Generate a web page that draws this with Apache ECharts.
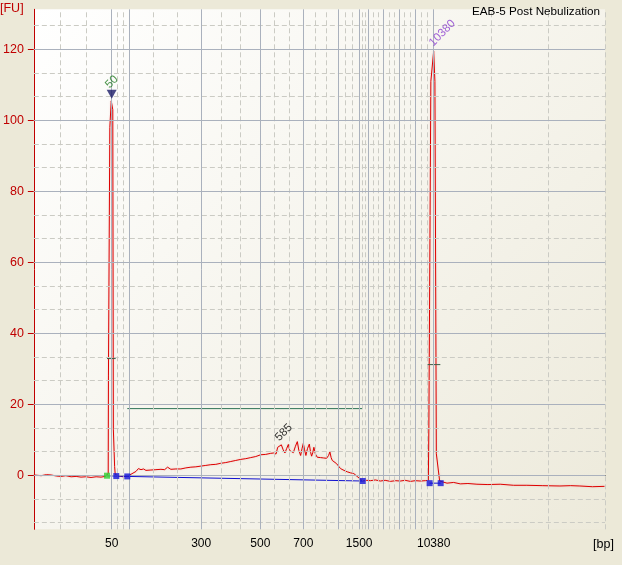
<!DOCTYPE html>
<html>
<head>
<meta charset="utf-8">
<script src="https://cdn.jsdelivr.net/npm/echarts@6/dist/echarts.min.js"></script>
<style>html,body{margin:0;padding:0;background:#ece9d8;}#c{width:622px;height:565px;}</style>
</head>
<body>
<div id="c"></div>
<script>
// ---- data (x in migration-time units, y in FU) ----
const ladderBp   = [50, 100, 300, 500, 700, 1000, 1500, 2000, 3000, 5000, 7000, 10380];
const ladderTime = [13.63, 16.70, 29.29, 39.66, 47.18, 53.22, 56.96, 58.47, 61.26, 63.95, 66.75, 70.00];
const labeledBp  = [50, 300, 500, 700, 1500, 10380];
const yTickLabels = [0, 20, 40, 60, 80, 100, 120];

const traceTime = [0, 1.28, 2.2, 3.02, 4.0, 4.77, 5.6, 6.52, 7.4, 8.26, 9.1, 10.01, 10.9, 11.76, 12.5, 12.81,
  13.02, 13.06, 13.30, 13.55, 13.63, 13.82, 13.92, 14.14, 14.25, 14.43,
  15.0, 15.6, 16.36,
  17.0, 17.88, 18.3, 18.76, 19.2, 19.62, 20.49, 21.37, 22.25, 22.9, 23.41, 23.99, 24.87, 25.74, 26.61, 27.49,
  28.36, 29.23, 30.11, 30.98, 31.86, 32.73, 33.60, 34.48, 35.35, 36.23, 37.10, 37.97, 38.85, 39.72, 40.60,
  41.47, 41.99, 42.4, 42.69, 43.0, 43.33, 43.65, 43.96, 44.25, 44.56, 44.8, 45.1, 45.43, 45.8, 46.13, 46.4,
  46.71, 46.95, 47.18, 47.4, 47.63, 47.9, 48.23, 48.45, 48.63, 48.85, 49.03, 49.3, 49.62, 50.2, 50.73, 51.25,
  51.6, 51.83, 52.05, 52.25, 52.6, 53.00, 53.35, 53.70, 54.3, 54.87, 55.45, 56.02, 56.6, 57.19, 57.59,
  58.3, 58.94, 59.8, 60.69, 61.5, 62.43, 63.3, 64.18, 65.0, 65.93, 66.8, 67.67, 68.55, 69.07,
  69.16, 69.51, 70.00, 70.22, 70.47, 71.05,
  71.35, 72.34, 73.5, 74.66, 76.0, 77.58, 79.5, 81.65, 84.0, 86.32, 89.0, 92.11, 94.0, 95.60, 97.8, 99.91];
const traceFU = [0.1, -0.1, 0.2, 0.1, -0.2, -0.3, -0.1, -0.4, -0.3, -0.5, -0.4, -0.6, -0.4, -0.5, -0.3, -0.1,
  0.5, 28, 98, 105.5, 106, 103, 13, 2.5, 0.2, -0.2,
  -0.2, -0.4, -0.2,
  0.3, 1.1, 1.9, 1.6, 1.8, 1.4, 1.5, 1.6, 1.7, 1.6, 2.3, 1.7, 1.8, 1.8, 2.1, 2.3,
  2.4, 2.6, 2.8, 3.0, 3.1, 3.4, 3.6, 3.9, 4.2, 4.5, 4.7, 5.0, 5.3, 5.8, 5.9,
  6.2, 6.3, 6.0, 7.9, 8.0, 8.6, 7.2, 6.3, 7.5, 8.7, 7.0, 6.5, 6.4, 8.2, 9.5, 7.0,
  5.6, 7.5, 9.0, 7.2, 5.6, 7.5, 8.8, 6.5, 5.4, 6.5, 7.9, 6.0, 5.1, 5.0, 4.9, 4.8,
  5.6, 6.6, 5.0, 4.2, 3.8, 3.3, 2.6, 1.9, 1.4, 1.0, 0.7, 0.5, -0.3, -1.1, -1.6,
  -1.4, -1.5, -1.3, -1.6, -1.4, -1.7, -1.5, -1.6, -1.4, -1.7, -1.5, -1.6, -1.5, -1.4,
  13, 111, 119.5, 111, 6.1, -1.6,
  -1.8, -2.2, -2.0, -2.4, -2.3, -2.5, -2.6, -2.5, -2.8, -2.8, -2.9, -3.0, -2.9, -3.0, -3.2, -3.1];

const greenMarker = [[12.81, -0.1]];
const blueMarkers = [[14.43, -0.2], [16.36, -0.3], [57.59, -1.6], [69.29, -2.2], [71.23, -2.2]];
const baselineSmear = [[12.81, -0.1], [16.36, -0.3], [57.59, -1.6]];
const baselineUpper = [[69.29, -2.2], [71.23, -2.2]];
const regionBar = [[16.36, 18.8], [57.5, 18.8]];
const halfHeight50 = [[12.81, 32.9], [14.33, 32.9]];
const halfHeight10380 = [[68.85, 31.2], [71.17, 31.2]];
const peakLabels = [
  {name: '50', value: [13.63, 110.8], color: '#1f7a1f'},
  {name: '585', value: [43.74, 12.1], color: '#000000'},
  {name: '10380', value: [71.52, 124.6], color: '#8a3ccf'}
];
const lowerMarkerTip = [[13.63, 107.4]];

const xMin = 0, xMax = 100, yMin = -15.2, yMax = 131.3;

// ---- grid line positions ----
const bounds = [xMin].concat(ladderTime, [xMax]);
const vDashed = [];
for (let i = 0; i < bounds.length - 1; i++) {
  const a = bounds[i], b = bounds[i + 1];
  vDashed.push(a + (b - a) / 3, a + 2 * (b - a) / 3);
}
vDashed.push(xMax);
const hDashed = [];
for (let v = -20; v < 140; v += 20) {
  [v + 20 / 3, v + 40 / 3].forEach(x => { if (x > yMin && x < yMax) hDashed.push(x); });
}

const traceData = traceTime.map((t, i) => [t, traceFU[i]]);
const bpByTime = {};
ladderTime.forEach((t, i) => { bpByTime[t.toFixed(2)] = ladderBp[i]; });
const labeledTimes = ladderTime.filter((t, i) => labeledBp.indexOf(ladderBp[i]) >= 0);

const FONT = 'Liberation Sans';
const chart = echarts.init(document.getElementById('c'));

function mlSeries(data, color, type) {
  return {
    type: 'line', data: [], z: 1, silent: true,
    markLine: {
      silent: true, symbol: ['none', 'none'], animation: false,
      label: {show: false},
      lineStyle: {color: color, type: type, width: 1},
      emphasis: {disabled: true},
      data: data
    }
  };
}

chart.setOption({
  animation: false,
  backgroundColor: '#ece9d8',
  title: {
    text: 'EAB-5 Post Nebulization', right: 17, top: 1,
    textStyle: {fontFamily: FONT, fontSize: 11.7, fontWeight: 'normal', color: '#000'}
  },
  graphic: [
    {type: 'text', left: 0, top: 2, style: {text: '[FU]', fill: '#c00000', font: '12.5px "Liberation Sans"'}},
    {type: 'text', left: 593, top: 538, style: {text: '[bp]', fill: '#000', font: '12.5px "Liberation Sans"'}}
  ],
  grid: {
    left: 32.7, right: 17, top: 9.3, bottom: 35.7, show: true, borderWidth: 0,
    backgroundColor: new echarts.graphic.LinearGradient(0, 0, 1, 1, [
      {offset: 0, color: '#ffffff'}, {offset: 1, color: '#edeadb'}
    ])
  },
  xAxis: {
    type: 'value', min: xMin, max: xMax,
    splitLine: {show: false},
    axisLine: {lineStyle: {color: '#000', width: 1}},
    axisTick: {show: true, length: 6, customValues: ladderTime, lineStyle: {color: '#000'}},
    axisLabel: {
      customValues: labeledTimes, margin: 8, color: '#000', fontFamily: FONT, fontSize: 12,
      formatter: v => String(bpByTime[v.toFixed(2)] || '')
    }
  },
  yAxis: {
    type: 'value', min: yMin, max: yMax,
    splitLine: {show: false},
    axisLine: {show: true, lineStyle: {color: '#c00000', width: 1}},
    axisTick: {show: true, length: 6, customValues: yTickLabels, lineStyle: {color: '#c00000'}},
    axisLabel: {customValues: yTickLabels, margin: 10, color: '#c00000', fontFamily: FONT, fontSize: 12.5}
  },
  series: [
    mlSeries(vDashed.map(v => ({xAxis: v})), '#cbcbc4', [5, 3]),
    mlSeries(hDashed.map(v => ({yAxis: v})), '#cbcbc4', [5, 3]),
    mlSeries(ladderTime.map(v => ({xAxis: v})), '#aab1bd', 'solid'),
    mlSeries(yTickLabels.map(v => ({yAxis: v})), '#aab1bd', 'solid'),
    {
      type: 'line', data: traceData, z: 3, symbol: 'none', silent: true,
      lineStyle: {color: '#dd0000', width: 1, shadowColor: 'rgba(230,120,120,0.35)', shadowBlur: 2}
    },
    {type: 'line', data: baselineSmear, z: 4, symbol: 'none', lineStyle: {color: '#1010d0', width: 1}},
    {type: 'line', data: baselineUpper, z: 4, symbol: 'none', lineStyle: {color: '#1010d0', width: 1}},
    {type: 'line', data: regionBar, z: 4, symbol: 'none', lineStyle: {color: '#2f7356', width: 1}},
    {type: 'line', data: halfHeight50, z: 4, symbol: 'none', lineStyle: {color: '#3d5c45', width: 1}},
    {type: 'line', data: halfHeight10380, z: 4, symbol: 'none', lineStyle: {color: '#3d5c45', width: 1}},
    {type: 'scatter', data: blueMarkers, z: 5, symbol: 'rect', symbolSize: 6, itemStyle: {color: '#1414d8'}},
    {type: 'scatter', data: greenMarker, z: 5, symbol: 'rect', symbolSize: 6, itemStyle: {color: '#30d030'}},
    {type: 'scatter', data: lowerMarkerTip, z: 5, symbol: 'triangle', symbolRotate: 180, symbolSize: [10, 9], itemStyle: {color: '#1a1a66'}},
    {
      type: 'scatter', z: 6, symbolSize: 1, itemStyle: {color: 'rgba(0,0,0,0)'},
      data: peakLabels.map(p => ({name: p.name, value: p.value, label: {color: p.color}})),
      label: {show: true, position: 'inside', rotate: 45, formatter: '{b}', fontFamily: FONT, fontSize: 11.5}
    }
  ]
});
</script>
</body>
</html>
